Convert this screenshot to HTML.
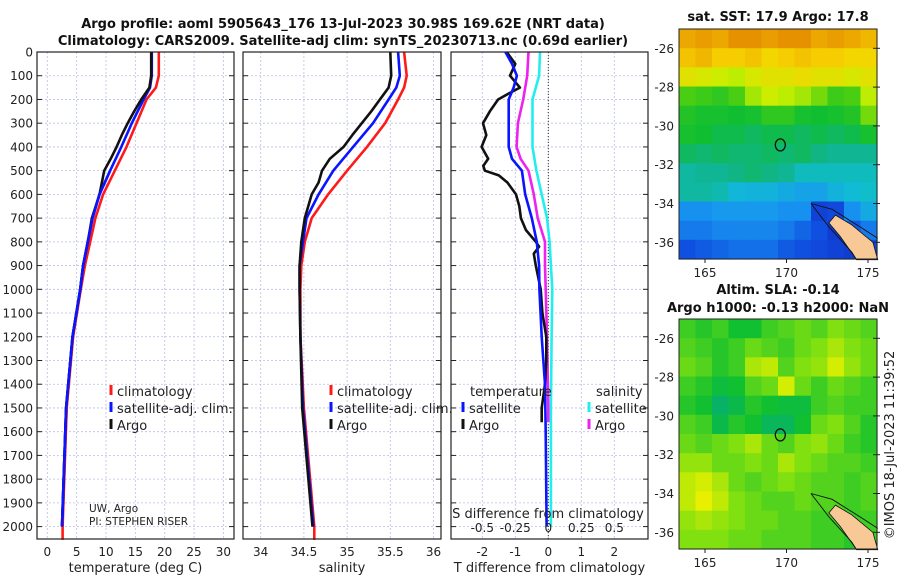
<!DOCTYPE html>
<html><head><meta charset="utf-8"><style>
html,body{margin:0;padding:0;background:#fff;}
svg{display:block;font-family:"DejaVu Sans","Liberation Sans",sans-serif;}
</style></head><body>
<svg id="fig" width="900" height="580" viewBox="0 0 900 580" xmlns="http://www.w3.org/2000/svg">
<g id="g"></g>
</svg>
<script>
// ---------- data ----------
const depths = [0,100,150,200,300,400,500,600,700,800,900,1000,1200,1500,2000];
const tempClim = [19.0,19.0,18.5,16.9,15.2,13.5,11.5,9.5,8.2,7.3,6.4,5.7,4.4,3.3,2.6];
const tempSat  = [17.8,17.8,17.5,16.4,14.4,12.6,10.7,8.9,7.7,6.9,6.1,5.6,4.3,3.2,2.5];
const argoDepths = [0,100,150,200,250,300,350,400,450,500,550,600,700,800,900,1000,1200,1500,2000];
const tempArgo = [17.7,17.7,17.4,16.0,14.8,13.7,12.7,11.8,10.8,9.7,9.3,8.9,7.6,6.9,6.1,5.6,4.3,3.2,2.5];
const salClim = [35.66,35.69,35.66,35.59,35.44,35.23,35.0,34.78,34.59,34.51,34.47,34.46,34.46,34.5,34.62];
const salSat  = [35.59,35.61,35.57,35.48,35.30,35.07,34.84,34.67,34.53,34.49,34.45,34.45,34.46,34.49,34.61];
const salArgo = [35.50,35.51,35.48,35.38,35.28,35.17,35.06,34.96,34.80,34.71,34.67,34.59,34.51,34.47,34.45,34.45,34.46,34.48,34.60];
const diffDepths = [0,50,100,150,175,200,250,300,350,400,450,480,500,520,550,600,650,700,750,800,820,850,900,1000,1100,1200,1300,1400,1500,1560];
const dTArgo = [-1.26,-1.0,-1.16,-0.86,-1.2,-1.52,-1.77,-1.98,-1.88,-2.02,-1.82,-1.97,-1.92,-1.5,-1.24,-0.98,-0.88,-0.83,-0.68,-0.38,-0.28,-0.44,-0.38,-0.23,-0.18,-0.06,-0.06,-0.1,-0.2,-0.2];
const satDiffDepths = [0,50,100,150,200,300,400,450,500,600,700,800,900,1000,1200,1400,1600,2000];
const dTSat = [-1.3,-1.1,-0.95,-1.05,-1.2,-1.2,-1.2,-1.1,-0.8,-0.7,-0.5,-0.35,-0.28,-0.27,-0.2,-0.1,-0.08,-0.05];
const dSArgoDepths = [0,100,200,300,400,450,500,600,700,800,900,1000,1200,1500,1560];
const dSArgo = [-0.15,-0.16,-0.19,-0.23,-0.24,-0.21,-0.15,-0.11,-0.08,-0.025,-0.025,-0.02,-0.01,0.0,0.0];
const dSSatDepths = [0,100,200,300,400,500,600,700,800,900,1000,1200,1500,2000];
const dSSat = [-0.063,-0.07,-0.12,-0.12,-0.12,-0.09,-0.05,-0.01,0.01,0.02,0.03,0.025,0.02,0.02];
const depthTicks = [0,100,200,300,400,500,600,700,800,900,1000,1100,1200,1300,1400,1500,1600,1700,1800,1900,2000];
const tempTicks = [0,5,10,15,20,25,30];
const salTicks = [34,34.5,35,35.5,36];
const salTickLabels = ["34","34.5","35","35.5","36"];
const dTTicks = [-2,-1,0,1,2];
const dSTicks = [-0.5,-0.25,0,0.25,0.5];
const dSTickLabels = ["-0.5","-0.25","0","0.25","0.5"];
const latTicks = [-26,-28,-30,-32,-34,-36];
const lonTicks = [165,170,175];
// map grids (top row = north), values 0..1
const sstGrid = [
[0.93,0.95,0.93,0.97,0.97,0.95,0.97,0.97,0.93,0.95,0.93,0.9],
[0.88,0.9,0.86,0.86,0.88,0.84,0.86,0.88,0.86,0.86,0.84,0.84],
[0.8,0.78,0.76,0.74,0.78,0.8,0.8,0.82,0.8,0.8,0.78,0.8],
[0.64,0.62,0.6,0.64,0.72,0.76,0.74,0.72,0.68,0.62,0.64,0.74],
[0.58,0.56,0.56,0.55,0.56,0.6,0.6,0.56,0.55,0.56,0.58,0.68],
[0.56,0.55,0.52,0.52,0.5,0.52,0.52,0.5,0.52,0.5,0.52,0.56],
[0.5,0.48,0.5,0.48,0.48,0.5,0.48,0.5,0.46,0.44,0.44,0.44],
[0.42,0.44,0.44,0.46,0.48,0.46,0.44,0.38,0.38,0.38,0.38,0.38],
[0.42,0.42,0.4,0.33,0.32,0.32,0.3,0.28,0.28,0.32,0.34,0.36],
[0.24,0.24,0.26,0.26,0.26,0.26,0.24,0.24,0.08,0.1,0.24,0.3],
[0.2,0.2,0.22,0.22,0.22,0.22,0.2,0.16,0.12,0.06,0.14,0.2],
[0.12,0.14,0.16,0.18,0.18,0.18,0.14,0.12,0.1,0.08,0.06,0.1]];
const slaGrid = [
[0.45,0.4,0.45,0.35,0.35,0.45,0.5,0.55,0.5,0.6,0.55,0.5],
[0.5,0.45,0.4,0.45,0.55,0.5,0.45,0.55,0.6,0.7,0.6,0.55],
[0.55,0.5,0.4,0.45,0.7,0.75,0.5,0.6,0.65,0.8,0.65,0.55],
[0.45,0.4,0.3,0.35,0.5,0.55,0.8,0.55,0.45,0.55,0.5,0.45],
[0.4,0.35,0.15,0.25,0.4,0.35,0.3,0.3,0.45,0.5,0.45,0.45],
[0.5,0.45,0.25,0.4,0.35,0.2,0.2,0.35,0.55,0.6,0.5,0.4],
[0.55,0.5,0.55,0.6,0.7,0.55,0.5,0.6,0.65,0.55,0.45,0.4],
[0.65,0.65,0.55,0.55,0.6,0.55,0.7,0.6,0.55,0.5,0.5,0.45],
[0.75,0.8,0.7,0.55,0.5,0.55,0.6,0.55,0.5,0.5,0.45,0.5],
[0.75,0.85,0.75,0.6,0.55,0.5,0.5,0.55,0.5,0.5,0.45,0.5],
[0.65,0.7,0.65,0.6,0.55,0.55,0.5,0.5,0.45,0.45,0.45,0.45],
[0.6,0.6,0.6,0.55,0.55,0.5,0.5,0.5,0.45,0.45,0.4,0.45]];
// ---------- helpers ----------
const NS="http://www.w3.org/2000/svg";
const G=document.getElementById('g');
function el(tag,attrs,parent){const e=document.createElementNS(NS,tag);for(const k in attrs)e.setAttribute(k,attrs[k]);(parent||G).appendChild(e);return e;}
function txt(x,y,s,size,anchor,extra){const t=el('text',Object.assign({x:x,y:y,'font-size':size,'text-anchor':anchor||'start',fill:'#222'},extra||{}));t.textContent=s;return t;}
const TOP=52, BOT=539, DPX=0.2373;
const yD=d=>TOP+d*DPX;
const panels=[
 {name:'temperature-panel',l:37,r:234,x:v=>47.3+v*5.87},
 {name:'salinity-panel',l:243,r:441,x:v=>260.7+(v-34)*86.4},
 {name:'difference-panel',l:451,r:648,x:v=>548.3+v*33}
];
const xS=v=>548.3+v*132;
function frame(p,xt,xlab,xtl){
  const grp=el('g',{});
  
  
  depthTicks.forEach(d=>{const y=yD(d);
    el('line',{x1:p.l,x2:p.r,y1:y,y2:y,stroke:'#b8bfe6','stroke-width':0.8,'stroke-dasharray':'2,2'},grp);
    el('line',{x1:p.l,x2:p.l+5,y1:y,y2:y,stroke:'#222','stroke-width':1},grp);
    el('line',{x1:p.r-5,x2:p.r,y1:y,y2:y,stroke:'#222','stroke-width':1},grp);});
  xt.forEach((v,i)=>{const x=p.x(v);
    el('line',{x1:x,x2:x,y1:TOP,y2:BOT,stroke:'#b8bfe6','stroke-width':0.8,'stroke-dasharray':'2,2'},grp);
    const t=txt(x,556,xtl?xtl[i]:String(v),12,'middle');
    });
  const lt=txt((p.l+p.r)/2,572,xlab,13,'middle');
  
  return grp;
}
function border(p){el('rect',{x:p.l,y:TOP,width:p.r-p.l,height:BOT-TOP,fill:'none',stroke:'#222','stroke-width':1.2});}
function line(xs,ds,xf,color,name,w){
  const d=xs.map((v,i)=>(i?'L':'M')+xf(v).toFixed(1)+','+yD(ds[i]).toFixed(1)).join('');
  const p=el('path',{d:d,fill:'none',stroke:color,'stroke-width':w||2.6,'stroke-linejoin':'round'});
  return p;
}
// ---------- profile panels ----------
frame(panels[0],tempTicks,'temperature (deg C)');
frame(panels[1],salTicks,'salinity',salTickLabels);
frame(panels[2],dTTicks,'T difference from climatology');
depthTicks.forEach(d=>{const t=txt(33,yD(d)+4.5,String(d),12,'end');
  });
// temp lines
line(tempClim.concat([2.6]),depths.concat([2056]),panels[0].x,'#ff1a1a','temp-climatology-line');
line(tempSat,depths,panels[0].x,'#0a14ff','temp-satellite-line');
line(tempArgo,argoDepths,panels[0].x,'#111','temp-argo-line');
line(tempSat.slice(6),depths.slice(6),panels[0].x,'#0a14ff','temp-satellite-line-deep');
// sal lines
line(salClim.concat([34.62]),depths.concat([2056]),panels[1].x,'#ff1a1a','sal-climatology-line');
line(salSat,depths,panels[1].x,'#0a14ff','sal-satellite-line');
line(salArgo,argoDepths,panels[1].x,'#111','sal-argo-line');
// diff panel
el('line',{x1:548.3,x2:548.3,y1:TOP,y2:BOT,stroke:'#333','stroke-width':1,'stroke-dasharray':'1,2'});
line(dSSat,dSSatDepths,xS,'#22eeee','sal-satellite-diff-line');
line(dSArgo,dSArgoDepths,xS,'#ee22ee','sal-argo-diff-line');
line(dTArgo,diffDepths,panels[2].x,'#111','temp-argo-diff-line');
line(dTSat,satDiffDepths,panels[2].x,'#0a14ff','temp-satellite-diff-line');
panels.forEach(border);
// S axis inside diff panel
dSTicks.forEach((v,i)=>{const t=txt(xS(v),532,dSTickLabels[i],12,'middle');
  });
const sT=txt(548,518,'S difference from climatology',13,'middle');

// legends
function leg(x,y,color,label,name){
  el('rect',{x:x-1.5,y:y-11,width:3,height:10,fill:color});
  const t=txt(x+6,y,label,13,'start');
  }
leg(111,396,'#ff1a1a','climatology','legend-climatology');
leg(111,413,'#0a14ff','satellite-adj. clim.','legend-satellite');
leg(111,430,'#111','Argo','legend-argo');
leg(331,396,'#ff1a1a','climatology','legend-climatology-2');
leg(331,413,'#0a14ff','satellite-adj. clim.','legend-satellite-2');
leg(331,430,'#111','Argo','legend-argo-2');
const lt1=txt(470,396,'temperature',13);
const lt2=txt(596,396,'salinity',13);
leg(463,413,'#0a14ff','satellite','legend-temp-satellite');
leg(463,430,'#111','Argo','legend-temp-argo');
leg(589,413,'#22eeee','satellite','legend-sal-satellite');
leg(589,430,'#ee22ee','Argo','legend-sal-argo');
const pi1=txt(89,512,'UW, Argo',10.5);
const pi2=txt(89,525,'PI: STEPHEN RISER',10.5);
// titles
const t1=txt(343,28,'Argo profile: aoml 5905643_176 13-Jul-2023 30.98S 169.62E (NRT data)',13,'middle',{'font-weight':'bold',fill:'#111'});

const t2=txt(343,45,'Climatology: CARS2009. Satellite-adj clim: synTS_20230713.nc (0.69d earlier)',13,'middle',{'font-weight':'bold',fill:'#111'});

// ---------- maps ----------
function lerpC(stops,v){v=Math.max(0,Math.min(1,v));for(let i=1;i<stops.length;i++){if(v<=stops[i][0]){const a=stops[i-1],b=stops[i],f=(v-a[0])/(b[0]-a[0]);
 const c=[0,1,2].map(k=>Math.round(a[1][k]+(b[1][k]-a[1][k])*f));return 'rgb('+c.join(',')+')';}}return 'rgb('+stops[stops.length-1][1].join(',')+')';}
const sstStops=[[0,[16,40,190]],[0.12,[16,80,225]],[0.25,[24,150,240]],[0.35,[16,190,210]],[0.45,[16,180,140]],[0.55,[16,190,50]],[0.65,[80,208,16]],[0.75,[200,240,0]],[0.85,[248,210,0]],[1,[225,130,0]]];
const slaStops=[[0,[0,168,144]],[0.35,[16,192,48]],[0.6,[128,224,16]],[0.85,[232,240,0]],[1,[240,200,0]]];
function map(top,grid,stops,name,title,title2){
  const L=679,R=877,T=top,B=top+230,lonX=lon=>705+(lon-165)*16.3,latY=lat=>T+19.3+(-26-lat)*19.4;
  const grp=el('g',{});
  const cw=(R-L)/grid[0].length,ch=(B-T)/grid.length;
  grid.forEach((row,r)=>row.forEach((v,c)=>{
    const cell=el('rect',{x:(L+c*cw).toFixed(1),y:(T+r*ch).toFixed(1),width:(cw+0.6).toFixed(1),height:(ch+0.6).toFixed(1),fill:lerpC(stops,v)},grp);
    }));
  // coastline / land (shape only)
  const land='M'+lonX(173.0)+','+latY(-34.6)+' L'+lonX(174.0)+','+latY(-35.1)+' L'+lonX(175.3)+','+latY(-36.0)+' L'+lonX(175.6)+','+latY(-36.9)+' L'+lonX(174.3)+','+latY(-36.9)+' L'+lonX(173.3)+','+latY(-35.7)+' L'+lonX(172.6)+','+latY(-35.0)+'Z';
  const lp=el('path',{d:land,fill:'#f8c896',stroke:'#111','stroke-width':0.8},grp);
  
  el('path',{d:'M'+lonX(171.5)+','+latY(-34.0)+' L'+lonX(172.8)+','+latY(-34.3)+' L'+lonX(174.5)+','+latY(-35.2)+' L'+lonX(175.6)+','+latY(-35.8),fill:'none',stroke:'#111','stroke-width':0.9},grp);
  el('path',{d:'M'+lonX(171.5)+','+latY(-34.0)+' L'+lonX(172.6)+','+latY(-35.2)+' L'+lonX(174.0)+','+latY(-36.5)+' L'+lonX(174.3)+','+latY(-36.9),fill:'none',stroke:'#111','stroke-width':0.9},grp);
  const c=el('ellipse',{cx:lonX(169.62),cy:latY(-30.98),rx:5,ry:6,fill:'none',stroke:'#111','stroke-width':1.3},grp);
  
  el('rect',{x:L,y:T,width:R-L,height:B-T,fill:'none',stroke:'#222','stroke-width':1},grp);
  latTicks.forEach(lat=>{const y=latY(lat);el('line',{x1:R-4,x2:R+3,y1:y,y2:y,stroke:'#222'},grp);
    const t=txt(674,y+4.5,String(lat),12,'end');});
  lonTicks.forEach(lon=>{const x=lonX(lon);el('line',{x1:x,x2:x,y1:B,y2:B+4,stroke:'#222'},grp);
    const t=txt(x,B+18,String(lon),12,'middle');});
  if(title2){const a=txt(778,T-25,title,13,'middle',{'font-weight':'bold',fill:'#111'});
    const b=txt(778,T-7,title2,13,'middle',{'font-weight':'bold',fill:'#111'});}
  else{const a=txt(778,T-8,title,13,'middle',{'font-weight':'bold',fill:'#111'});}
}
map(29,sstGrid,sstStops,'sst-map','sat. SST: 17.9 Argo: 17.8');
map(319,slaGrid,slaStops,'sla-map','Altim. SLA: -0.14','Argo h1000: -0.13 h2000: NaN');
const cp=txt(0,0,'©IMOS 18-Jul-2023 11:39:52',13,'middle',{transform:'translate(894,445) rotate(-90)'});

</script>
</body></html>
